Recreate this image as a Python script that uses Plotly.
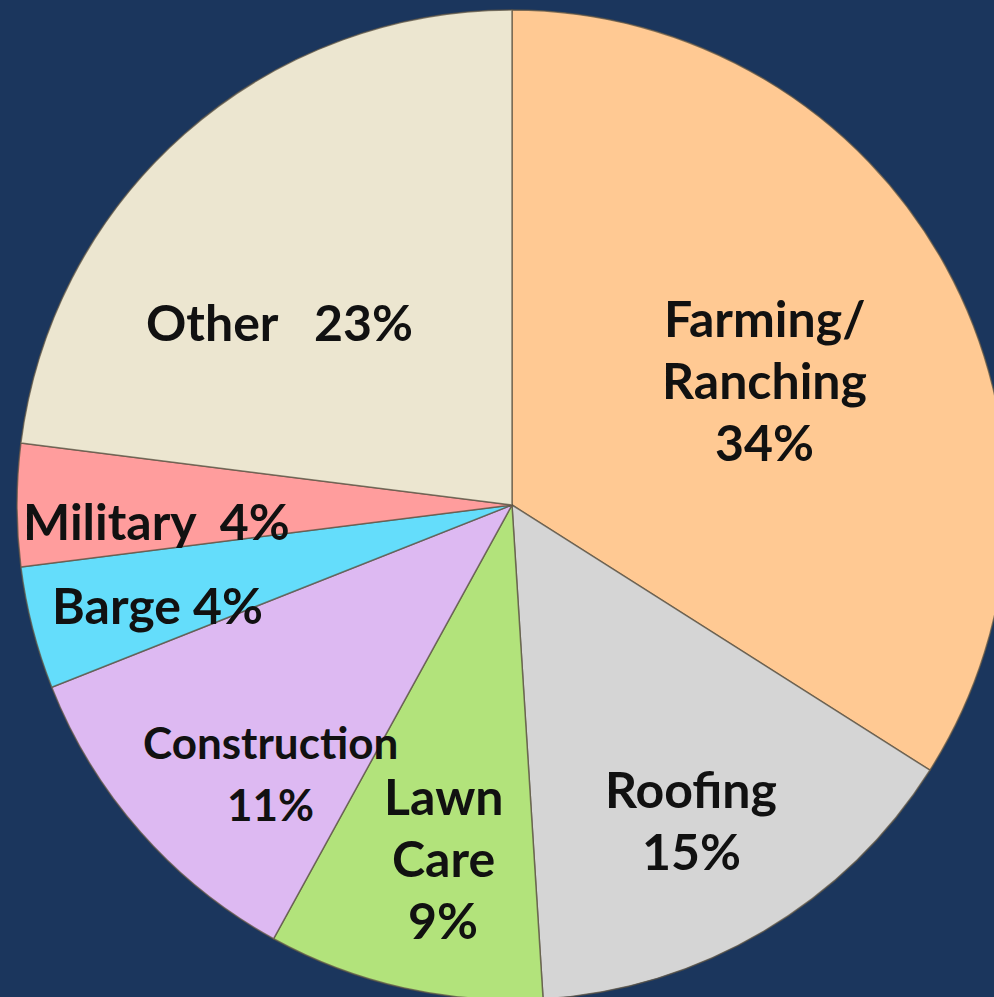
import plotly.graph_objects as go

# Share of cases by occupation (percent)
categories = ["Farming/Ranching", "Roofing", "Lawn Care", "Construction", "Barge", "Military", "Other"]
shares = [34, 15, 9, 11, 4, 4, 23]
label_lines = [
    ["Farming/", "Ranching", "34%"],
    ["Roofing", "15%"],
    ["Lawn", "Care", "9%"],
    ["Construction", "11%"],
    ["Barge 4%"],
    ["Military  4%"],
    ["Other   23%"],
]

colors = ["#FFC993", "#D5D5D5", "#B2E37B", "#DDB9F2", "#64DDFB", "#FF9D9D", "#ECE6D0"]

W, H = 1007, 1000
ML, MT = 17, 10
PW, PH = W - ML, H - MT
LINE_GAP = 62

# label block centres in page pixels (x, y) and font sizes
label_px = [(764, 380), (691, 820), (443, 858), (270, 773), (157, 605), (156, 521), (279, 322)]
label_size = [50, 50, 50, 44, 50, 50, 50]

fig = go.Figure(
    go.Pie(
        labels=categories,
        values=shares,
        sort=False,
        direction="clockwise",
        rotation=0,
        marker=dict(colors=colors, line=dict(color="rgba(95,85,70,0.75)", width=1.5)),
        textinfo="none",
        hoverinfo="label+percent",
        showlegend=False,
    )
)

for lines, (px, py), fs in zip(label_lines, label_px, label_size):
    n = len(lines)
    for i, line in enumerate(lines):
        ly = py + (i - (n - 1) / 2) * LINE_GAP
        fig.add_annotation(
            x=(px - ML) / PW,
            y=1 - (ly - MT) / PH,
            xref="paper",
            yref="paper",
            xanchor="center",
            yanchor="middle",
            text=line,
            showarrow=False,
            font=dict(family="Lato", size=fs, color="#111111", weight="bold"),
        )

fig.update_layout(
    width=W,
    height=H,
    margin=dict(l=ML, r=0, t=MT, b=0),
    paper_bgcolor="#1B365D",
    plot_bgcolor="#1B365D",
)

fig.write_html(
    "out.html",
    post_script="document.body.style.overflow='hidden';document.body.style.margin='0';",
)
